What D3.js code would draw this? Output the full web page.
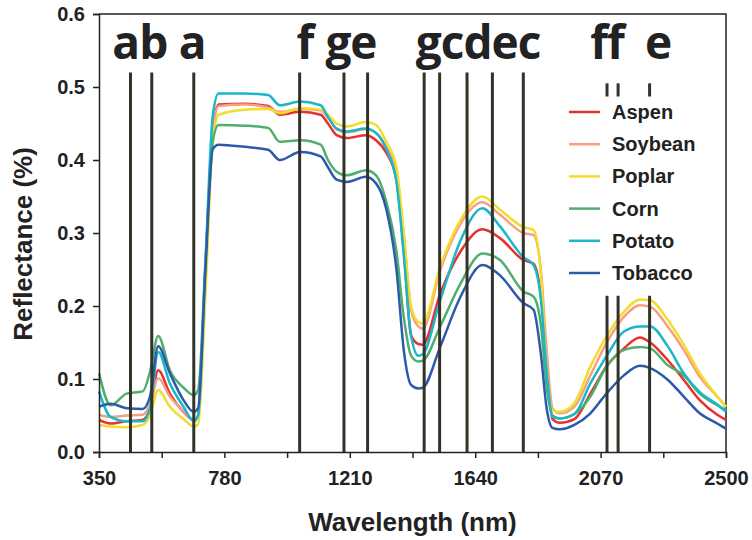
<!DOCTYPE html>
<html lang="en">
<head>
<meta charset="UTF-8">
<title>Reflectance spectra</title>
<style>
    body { margin: 0; background: #fff; }
    svg { display: block; }
    .axis text { font-family: "Liberation Sans", Arial, sans-serif; font-weight: bold; font-size: 20px; fill: #222; }
    .axis path, .axis line { stroke: #222; stroke-width: 1.5; }
</style>
</head>
<body>
<svg width="752" height="540"></svg>
<script src="https://d3js.org/d3.v7.min.js"></script>
<script>
const wavelengths = [350, 390, 445, 500, 525, 553, 593, 640, 675, 690, 715, 740, 760, 850, 930, 970, 1040, 1110, 1135, 1165,
    1200, 1265, 1300, 1335, 1370, 1395, 1420, 1445, 1460, 1520, 1590, 1665, 1725, 1805, 1840, 1865, 1885, 1905, 1930, 1980,
    2035, 2090, 2150, 2205, 2240, 2300, 2355, 2410, 2470, 2500];

const species = ["Aspen", "Soybean", "Poplar", "Corn", "Potato", "Tobacco"];
const colors = ["#e8302e", "#f5a07e", "#f2dc2e", "#4fae6c", "#1ab6c9", "#2c5aab"];

const aspen = [0.044, 0.039, 0.042, 0.044, 0.060, 0.112, 0.080, 0.055, 0.044, 0.050, 0.250, 0.440, 0.476, 0.477, 0.474, 0.462, 0.466, 0.462, 0.450, 0.434,
    0.430, 0.434, 0.427, 0.410, 0.373, 0.277, 0.160, 0.148, 0.147, 0.217, 0.275, 0.305, 0.293, 0.263, 0.258, 0.215, 0.125, 0.045, 0.040, 0.045,
    0.080, 0.117, 0.142, 0.157, 0.150, 0.126, 0.099, 0.071, 0.051, 0.044];
const soybean = [0.051, 0.048, 0.050, 0.051, 0.065, 0.101, 0.076, 0.056, 0.044, 0.050, 0.250, 0.440, 0.474, 0.476, 0.472, 0.466, 0.470, 0.468, 0.458, 0.442,
    0.438, 0.442, 0.437, 0.418, 0.382, 0.298, 0.195, 0.172, 0.169, 0.249, 0.313, 0.342, 0.325, 0.300, 0.297, 0.250, 0.140, 0.060, 0.053, 0.062,
    0.105, 0.149, 0.185, 0.201, 0.199, 0.172, 0.140, 0.103, 0.076, 0.062];
const poplar = [0.037, 0.035, 0.034, 0.037, 0.050, 0.085, 0.062, 0.045, 0.035, 0.038, 0.215, 0.425, 0.462, 0.469, 0.470, 0.464, 0.471, 0.469, 0.462, 0.450,
    0.446, 0.452, 0.448, 0.425, 0.390, 0.300, 0.200, 0.178, 0.176, 0.254, 0.318, 0.350, 0.332, 0.308, 0.304, 0.245, 0.110, 0.057, 0.055, 0.067,
    0.117, 0.158, 0.192, 0.209, 0.208, 0.181, 0.147, 0.108, 0.076, 0.062];
const corn = [0.108, 0.064, 0.080, 0.083, 0.110, 0.159, 0.112, 0.088, 0.078, 0.085, 0.260, 0.425, 0.448, 0.447, 0.444, 0.425, 0.427, 0.421, 0.400, 0.384,
    0.379, 0.386, 0.379, 0.343, 0.275, 0.185, 0.132, 0.124, 0.125, 0.172, 0.231, 0.272, 0.263, 0.220, 0.213, 0.175, 0.090, 0.050, 0.046, 0.052,
    0.076, 0.117, 0.140, 0.144, 0.142, 0.119, 0.105, 0.080, 0.064, 0.058];
const potato = [0.083, 0.048, 0.042, 0.042, 0.060, 0.137, 0.094, 0.062, 0.042, 0.050, 0.260, 0.460, 0.491, 0.491, 0.489, 0.475, 0.480, 0.475, 0.459, 0.443,
    0.439, 0.443, 0.437, 0.415, 0.370, 0.270, 0.160, 0.132, 0.134, 0.208, 0.290, 0.334, 0.309, 0.267, 0.256, 0.210, 0.110, 0.048, 0.046, 0.052,
    0.094, 0.131, 0.165, 0.172, 0.172, 0.145, 0.108, 0.082, 0.065, 0.055];
const tobacco = [0.062, 0.066, 0.060, 0.059, 0.076, 0.145, 0.108, 0.071, 0.055, 0.060, 0.250, 0.415, 0.421, 0.418, 0.414, 0.400, 0.411, 0.405, 0.390, 0.373,
    0.370, 0.377, 0.368, 0.333, 0.250, 0.140, 0.092, 0.087, 0.088, 0.144, 0.213, 0.256, 0.242, 0.204, 0.195, 0.135, 0.060, 0.033, 0.031, 0.037,
    0.053, 0.080, 0.105, 0.118, 0.115, 0.099, 0.076, 0.053, 0.039, 0.032];
const seriesValues = [aspen, soybean, poplar, corn, potato, tobacco];

// selected band markers
const markerNm = [458, 531, 675, 1038, 1190, 1271, 1465, 1518, 1612, 1699, 1805, 2092, 2130, 2238];
const markerBroken = [false, false, false, false, false, false, false, false, false, false, false, true, true, true];
const markerLabels = ["ab", "a", "f", "ge", "gcdec", "ff", "e"];
const markerLabelNm = [490, 669, 1056, 1214, 1650, 2092, 2267];

const xTicks = d3.range(350, 2501, 215);
const xTickLabels = ["350", "780", "1210", "1640", "2070", "2500"];
const yTicks = [0, 0.1, 0.2, 0.3, 0.4, 0.5, 0.6];

const svg = d3.select("svg");
const margin = {top: 14, right: 26, bottom: 88, left: 99};
const W = +svg.attr("width"), H = +svg.attr("height");

const x = d3.scaleLinear().domain([350, 2500]).range([margin.left, W - margin.right]);
const y = d3.scaleLinear().domain([0, 0.6]).range([H - margin.bottom, margin.top]);

// frame top and right
svg.append("path")
    .attr("d", `M${x(350)},${y(0.6)}H${x(2500)}V${y(0)}`)
    .attr("fill", "none").attr("stroke", "#222").attr("stroke-width", 1.5);

const line = d3.line()
    .x((d, i) => x(wavelengths[i]))
    .y(d => y(d))
    .curve(d3.curveMonotoneX);

svg.append("g").selectAll("path")
    .data(seriesValues)
    .join("path")
    .attr("d", line)
    .attr("fill", "none")
    .attr("stroke", (d, i) => colors[i])
    .attr("stroke-width", 2.5)
    .attr("stroke-linejoin", "round");

// band marker lines
const mk = svg.append("g").attr("stroke", "#33332a").attr("stroke-width", 3);
markerNm.forEach((nm, i) => {
    if (markerBroken[i]) {
        mk.append("line").attr("x1", x(nm)).attr("x2", x(nm)).attr("y1", y(0.505)).attr("y2", y(0.487));
        mk.append("line").attr("x1", x(nm)).attr("x2", x(nm)).attr("y1", y(0.214)).attr("y2", y(0));
    } else {
        mk.append("line").attr("x1", x(nm)).attr("x2", x(nm)).attr("y1", y(0.52)).attr("y2", y(0));
    }
});

svg.append("g").selectAll("text")
    .data(markerLabels)
    .join("text")
    .attr("x", (d, i) => x(markerLabelNm[i]))
    .attr("y", y(0.539))
    .attr("text-anchor", "middle")
    .attr("font-family", "'Open Sans', sans-serif")
    .attr("font-weight", "bold")
    .attr("font-size", 46)
    .attr("letter-spacing", -1)
    .attr("fill", "#222")
    .text(d => d);

// axes
svg.append("g")
    .attr("class", "axis")
    .attr("transform", `translate(0,${y(0)})`)
    .call(d3.axisBottom(x).tickValues(xTicks).tickSizeOuter(0).tickSize(6).tickPadding(13)
        .tickFormat(d => xTickLabels.includes(String(d)) ? d : ""));

svg.append("g")
    .attr("class", "axis")
    .attr("transform", `translate(${x(350)},0)`)
    .call(d3.axisLeft(y).tickValues(yTicks).tickSizeOuter(0).tickSize(6).tickPadding(8).tickFormat(d3.format(".1f")));

svg.append("text")
    .attr("x", (x(350) + x(2500)) / 2)
    .attr("y", 531)
    .attr("text-anchor", "middle")
    .attr("font-family", "'Liberation Sans', Arial, sans-serif")
    .attr("font-weight", "bold").attr("font-size", 26).attr("fill", "#222")
    .text("Wavelength (nm)");

svg.append("text")
    .attr("transform", `translate(32,${y(0.285)}) rotate(-90)`)
    .attr("text-anchor", "middle")
    .attr("font-family", "'Liberation Sans', Arial, sans-serif")
    .attr("font-weight", "bold").attr("font-size", 26).attr("fill", "#222")
    .text("Reflectance (%)");

// legend
const legend = svg.append("g").attr("transform", "translate(569,112)");
const rows = legend.selectAll("g").data(species).join("g")
    .attr("transform", (d, i) => `translate(0,${i * 32.2})`);
rows.append("line").attr("x1", 0).attr("x2", 31)
    .attr("stroke", (d, i) => colors[i]).attr("stroke-width", 2.5);
rows.append("text")
    .attr("x", 43).attr("dy", "0.35em")
    .attr("font-family", "'Liberation Sans', Arial, sans-serif")
    .attr("font-weight", "bold").attr("font-size", 20).attr("fill", "#222")
    .text(d => d);
</script>
</body>
</html>
